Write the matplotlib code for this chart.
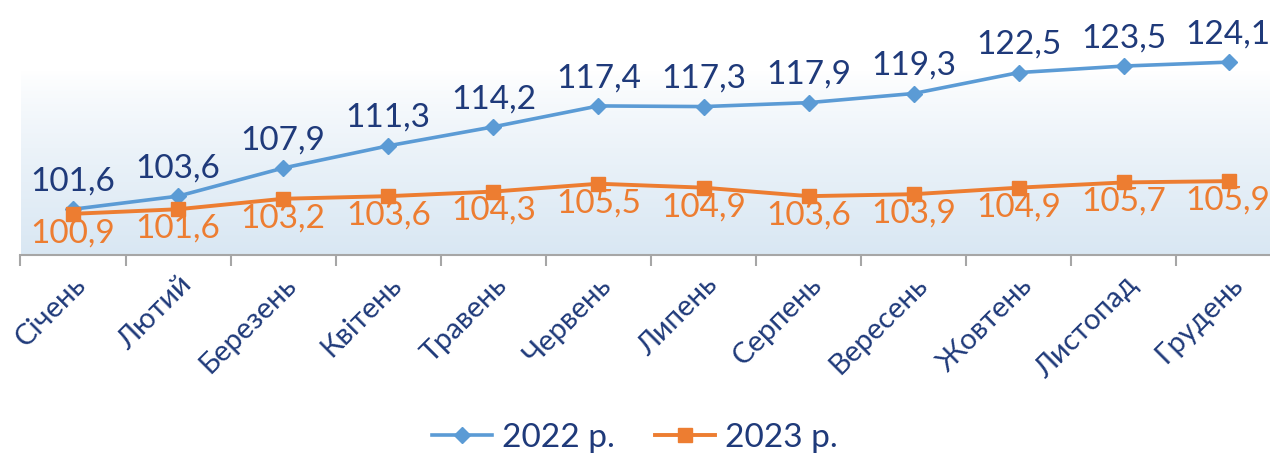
import numpy as np
import matplotlib
matplotlib.use("Agg")
import matplotlib.pyplot as plt
from matplotlib.colors import LinearSegmentedColormap

months = ["Січень", "Лютий", "Березень", "Квітень", "Травень", "Червень",
          "Липень", "Серпень", "Вересень", "Жовтень", "Листопад", "Грудень"]
values_2022 = [101.6, 103.6, 107.9, 111.3, 114.2, 117.4, 117.3, 117.9, 119.3, 122.5, 123.5, 124.1]
values_2023 = [100.9, 101.6, 103.2, 103.6, 104.3, 105.5, 104.9, 103.6, 103.9, 104.9, 105.7, 105.9]

blue = "#5b9bd5"
orange = "#ed7d31"
navy = "#1f3a7a"
font = ["Lato", "DejaVu Sans"]
plt.rcParams["font.family"] = font


def fmt(v):
    return ("%.1f" % v).replace(".", ",")


fig = plt.figure(figsize=(12.7, 4.62), dpi=100)
ax = fig.add_axes([20.5 / 1270, 1 - 255 / 462, 1261 / 1270, 255 / 462])

x = np.arange(len(months))
ax.set_xlim(-0.5, len(months) - 0.5)
ax.set_ylim(94.6, 133.6)

# background gradient: white at top, light blue at the bottom
grad = np.linspace(0, 1, 256).reshape(-1, 1)
grad = np.clip((grad - 0.28) / 0.72, 0, 1) ** 0.8
cmap = LinearSegmentedColormap.from_list("bg", ["#ffffff", "#d9e7f3"])
ax.imshow(grad, cmap=cmap, aspect="auto", extent=(-0.5, len(months) - 0.5, 94.6, 133.6),
          zorder=0, origin="upper")

ax.plot(x, values_2022, color=blue, lw=2.6, marker="D", ms=8, label="2022 р.", zorder=3)
ax.plot(x, values_2023, color=orange, lw=2.8, marker="s", ms=10, label="2023 р.", zorder=4)

for xi, v in zip(x, values_2022):
    ax.annotate(fmt(v), (xi, v), xytext=(-1 if xi == 11 else 0, 20),
                textcoords="offset points", ha="center", va="center",
                color=navy, fontsize=24)
for xi, v in zip(x, values_2023):
    ax.annotate(fmt(v), (xi, v), xytext=(-1 if xi == 11 else 0, -14),
                textcoords="offset points", ha="center", va="center",
                color=orange, fontsize=24)

for s in ["top", "right", "left"]:
    ax.spines[s].set_visible(False)
ax.spines["bottom"].set_color("#a6a6a6")
ax.spines["bottom"].set_linewidth(1.5)
ax.set_yticks([])
ax.set_xticks(x)
ax.set_xticklabels(months, rotation=45, ha="right", rotation_mode="anchor",
                   color=navy, fontsize=21)
ax.tick_params(axis="x", which="major", length=0, pad=12)
ax.set_xticks(np.arange(-0.5, len(months), 1), minor=True)
ax.tick_params(axis="x", which="minor", length=8, width=1.5, color="#a6a6a6")

fig.legend(loc="lower center", ncol=2, frameon=False, fontsize=24, labelcolor=navy,
           bbox_to_anchor=(0.5, -0.045), handlelength=1.8, handletextpad=0.3,
           columnspacing=1.2)

fig.savefig("out.png", dpi=100)
